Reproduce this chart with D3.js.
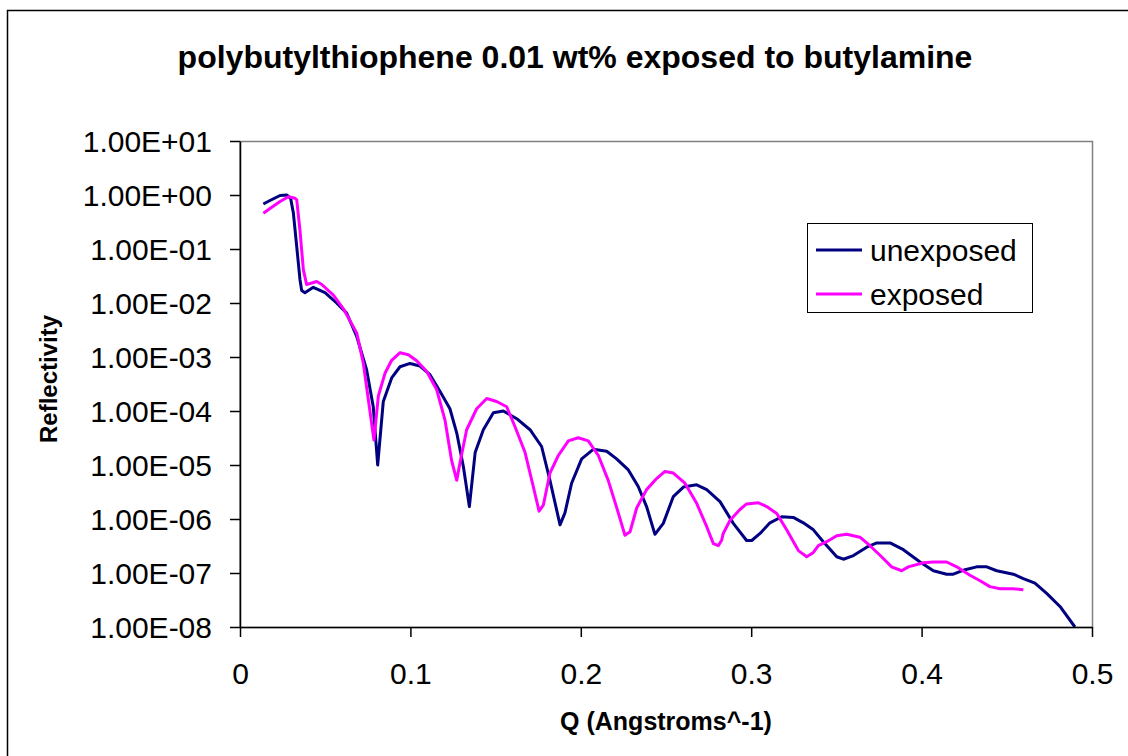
<!DOCTYPE html>
<html>
<head>
<meta charset="utf-8">
<script src="https://cdn.jsdelivr.net/npm/d3@7"></script>
<style>
  html, body { margin: 0; padding: 0; background: #fff; }
  svg { display: block; font-family: "Liberation Sans", Arial, sans-serif; }
</style>
</head>
<body>
<svg id="chart" width="1128" height="756"></svg>
<script>
// Q values (Angstroms^-1) and reflectivity for each sample
const qUnexposed = [0.0137, 0.0176, 0.0235, 0.0274, 0.0297, 0.0313, 0.0333, 0.0352, 0.0362, 0.0381,
  0.0430, 0.0499, 0.0567, 0.0626, 0.0685, 0.0743, 0.0782, 0.0808, 0.0841, 0.0890,
  0.0939, 0.0998, 0.1056, 0.1115, 0.1174, 0.1232, 0.1272, 0.1311, 0.1346, 0.1380,
  0.1428, 0.1487, 0.1545, 0.1624, 0.1702, 0.1770, 0.1819, 0.1878, 0.1907, 0.1946,
  0.2005, 0.2073, 0.2152, 0.2210, 0.2279, 0.2337, 0.2386, 0.2435, 0.2484, 0.2543,
  0.2602, 0.2680, 0.2739, 0.2817, 0.2895, 0.2973, 0.3003, 0.3052, 0.3110, 0.3179,
  0.3247, 0.3306, 0.3365, 0.3423, 0.3502, 0.3541, 0.3600, 0.3678, 0.3737, 0.3815,
  0.3893, 0.3991, 0.4069, 0.4147, 0.4186, 0.4255, 0.4323, 0.4382, 0.4441, 0.4538,
  0.4597, 0.4665, 0.4734, 0.4812, 0.4900];
const rUnexposed = [0.68, 0.79, 0.98, 1.0, 0.87, 0.47, 0.11, 0.027, 0.017, 0.0155,
  0.0195, 0.0155, 0.010, 0.0065, 0.0024, 5.8e-4, 1.2e-4, 1.0e-5, 1.5e-4, 4.1e-4,
  6.6e-4, 7.6e-4, 6.8e-4, 4.7e-4, 2.3e-4, 1.1e-4, 3.9e-5, 9.3e-6, 1.7e-6, 1.7e-5,
  4.5e-5, 9.3e-5, 1.0e-4, 7.2e-5, 4.5e-5, 2.2e-5, 5.2e-6, 7.8e-7, 1.3e-6, 4.6e-6,
  1.3e-5, 1.95e-5, 1.8e-5, 1.3e-5, 8.1e-6, 4.0e-6, 1.7e-6, 5.2e-7, 8.3e-7, 2.6e-6,
  3.9e-6, 4.3e-6, 3.5e-6, 2.1e-6, 8.3e-7, 4.0e-7, 4.0e-7, 5.4e-7, 8.5e-7, 1.1e-6,
  1.07e-6, 8.5e-7, 6.3e-7, 3.8e-7, 2.0e-7, 1.8e-7, 2.1e-7, 3.0e-7, 3.6e-7, 3.6e-7,
  2.7e-7, 1.6e-7, 1.1e-7, 9.5e-8, 9.5e-8, 1.15e-7, 1.3e-7, 1.3e-7, 1.1e-7, 9.5e-8,
  7.9e-8, 6.5e-8, 4.2e-8, 2.4e-8, 1.0e-8];

const qExposed = [0.0137, 0.0176, 0.0235, 0.0284, 0.0323, 0.0333, 0.0352, 0.0372, 0.0391, 0.0450,
  0.0480, 0.0548, 0.0606, 0.0685, 0.0724, 0.0759, 0.0786, 0.0812, 0.0851, 0.0890,
  0.0939, 0.0988, 0.1037, 0.1096, 0.1154, 0.1203, 0.1242, 0.1272, 0.1291, 0.1330,
  0.1389, 0.1448, 0.1506, 0.1565, 0.1614, 0.1673, 0.1721, 0.1755, 0.1780, 0.1819,
  0.1868, 0.1927, 0.1985, 0.2044, 0.2103, 0.2161, 0.2220, 0.2259, 0.2289, 0.2328,
  0.2386, 0.2445, 0.2494, 0.2543, 0.2611, 0.2680, 0.2739, 0.2778, 0.2807, 0.2827,
  0.2836, 0.2876, 0.2934, 0.2973, 0.3042, 0.3091, 0.3150, 0.3208, 0.3277, 0.3326,
  0.3365, 0.3394, 0.3443, 0.3502, 0.3560, 0.3638, 0.3697, 0.3765, 0.3824, 0.3883,
  0.3922, 0.4010, 0.4069, 0.4147, 0.4206, 0.4284, 0.4343, 0.4401, 0.4460, 0.4538,
  0.4597];
const rExposed = [0.46, 0.56, 0.76, 0.93, 0.87, 0.81, 0.22, 0.041, 0.022, 0.025,
  0.022, 0.014, 0.0079, 0.0028, 7.6e-4, 1.2e-4, 2.9e-5, 1.9e-4, 5.0e-4, 8.7e-4,
  1.2e-3, 1.1e-3, 8.5e-4, 5.4e-4, 2.5e-4, 6.8e-5, 1.2e-5, 5.2e-6, 1.1e-5, 4.5e-5,
  1.1e-4, 1.7e-4, 1.5e-4, 1.2e-4, 5.1e-5, 1.7e-5, 4.0e-6, 1.4e-6, 1.8e-6, 7.1e-6,
  1.5e-5, 2.8e-5, 3.2e-5, 2.8e-5, 1.5e-5, 5.2e-6, 1.3e-6, 5.0e-7, 5.8e-7, 1.6e-6,
  3.5e-6, 5.6e-6, 7.6e-6, 7.1e-6, 4.6e-6, 1.95e-6, 7.2e-7, 3.5e-7, 3.2e-7, 4.1e-7,
  5.4e-7, 9.5e-7, 1.5e-6, 1.9e-6, 2.0e-6, 1.7e-6, 1.26e-6, 6.3e-7, 2.6e-7, 2.0e-7,
  2.4e-7, 3.2e-7, 3.8e-7, 4.9e-7, 5.2e-7, 4.6e-7, 3.2e-7, 2.0e-7, 1.3e-7, 1.1e-7,
  1.3e-7, 1.55e-7, 1.6e-7, 1.6e-7, 1.3e-7, 9.1e-8, 7.2e-8, 5.6e-8, 5.1e-8, 5.1e-8,
  4.9e-8];

const seriesNames = ["unexposed", "exposed"];
const xTicks = [0, 0.1, 0.2, 0.3, 0.4, 0.5];
const yTicks = [1e1, 1e0, 1e-1, 1e-2, 1e-3, 1e-4, 1e-5, 1e-6, 1e-7, 1e-8];
const chartTitle = "polybutylthiophene 0.01 wt% exposed to butylamine";
const xTitle = "Q (Angstroms^-1)";
const yTitle = "Reflectivity";

const colors = ["#000080", "#FF00FF"];

const svg = d3.select("#chart");
const plot = { left: 240, right: 1092, top: 141, bottom: 627 };

// Outer chart frame
svg.append("rect")
  .attr("x", 7.5).attr("y", 10.5)
  .attr("width", 1130).attr("height", 760)
  .attr("fill", "#fff").attr("stroke", "#000").attr("stroke-width", 1.5);

const x = d3.scaleLinear().domain([0, 0.5]).range([plot.left, plot.right]);
const y = d3.scaleLog().domain([1e-8, 1e1]).range([plot.bottom, plot.top]);

// Plot area border (grey)
svg.append("rect")
  .attr("x", plot.left).attr("y", plot.top + 0.5)
  .attr("width", plot.right - plot.left + 0.5).attr("height", plot.bottom - plot.top)
  .attr("fill", "none").attr("stroke", "#808080").attr("stroke-width", 1.5);

// Curves, clipped to the plot area
svg.append("clipPath").attr("id", "plotClip")
  .append("rect")
  .attr("x", plot.left).attr("y", plot.top)
  .attr("width", plot.right - plot.left).attr("height", plot.bottom - plot.top + 1);

const line = d3.line().x(d => x(d[0])).y(d => y(d[1]));
const seriesData = [
  d3.zip(qUnexposed, rUnexposed),
  d3.zip(qExposed, rExposed)
];
const curves = svg.append("g").attr("clip-path", "url(#plotClip)");
seriesData.forEach((data, i) => {
  curves.append("path")
    .datum(data)
    .attr("d", line)
    .attr("fill", "none")
    .attr("stroke", colors[i])
    .attr("stroke-width", 3)
    .attr("stroke-linejoin", "round");
});

// Axes
const fmtSci = v => {
  const e = Math.round(Math.log10(v));
  const sign = e < 0 ? "-" : "+";
  return "1.00E" + sign + String(Math.abs(e)).padStart(2, "0");
};

const yAxis = d3.axisLeft(y).tickValues(yTicks).tickFormat(fmtSci).tickSize(10).tickSizeOuter(0);
const gy = svg.append("g").attr("transform", `translate(${plot.left},0)`).call(yAxis);
gy.select(".domain").attr("stroke", "#000").attr("stroke-width", 1.5);
gy.selectAll(".tick line").attr("stroke", "#000").attr("stroke-width", 1.5);
gy.selectAll(".tick text")
  .attr("x", -28).attr("dy", "0.36em")
  .attr("font-size", 30).attr("fill", "#000")
  .attr("font-family", "Liberation Sans, Arial, sans-serif");

const xAxis = d3.axisBottom(x).tickValues(xTicks).tickFormat(d => String(d)).tickSize(10).tickSizeOuter(0);
const gx = svg.append("g").attr("transform", `translate(0,${plot.bottom})`).call(xAxis);
gx.select(".domain").attr("stroke", "#000").attr("stroke-width", 1.5);
gx.selectAll(".tick line").attr("stroke", "#000").attr("stroke-width", 1.5);
gx.selectAll(".tick text")
  .attr("y", 46).attr("dy", "0.36em")
  .attr("font-size", 30).attr("fill", "#000")
  .attr("font-family", "Liberation Sans, Arial, sans-serif");

// Titles
svg.append("text")
  .attr("x", 575).attr("y", 68)
  .attr("text-anchor", "middle")
  .attr("font-size", 32).attr("font-weight", "bold")
  .text(chartTitle);

svg.append("text")
  .attr("x", 666).attr("y", 730)
  .attr("text-anchor", "middle")
  .attr("font-size", 25).attr("font-weight", "bold")
  .text(xTitle);

svg.append("text")
  .attr("transform", "translate(57,379) rotate(-90)")
  .attr("text-anchor", "middle")
  .attr("font-size", 24).attr("font-weight", "bold")
  .text(yTitle);

// Legend
const legend = svg.append("g");
legend.append("rect")
  .attr("x", 807.5).attr("y", 223.5)
  .attr("width", 225).attr("height", 89)
  .attr("fill", "#fff").attr("stroke", "#000").attr("stroke-width", 1);
seriesNames.forEach((name, i) => {
  const ly = 250 + i * 44;
  legend.append("line")
    .attr("x1", 816).attr("x2", 862)
    .attr("y1", ly).attr("y2", ly)
    .attr("stroke", colors[i]).attr("stroke-width", 3);
  legend.append("text")
    .attr("x", 870).attr("y", ly).attr("dy", "0.36em")
    .attr("font-size", 30)
    .text(name);
});
</script>
</body>
</html>
